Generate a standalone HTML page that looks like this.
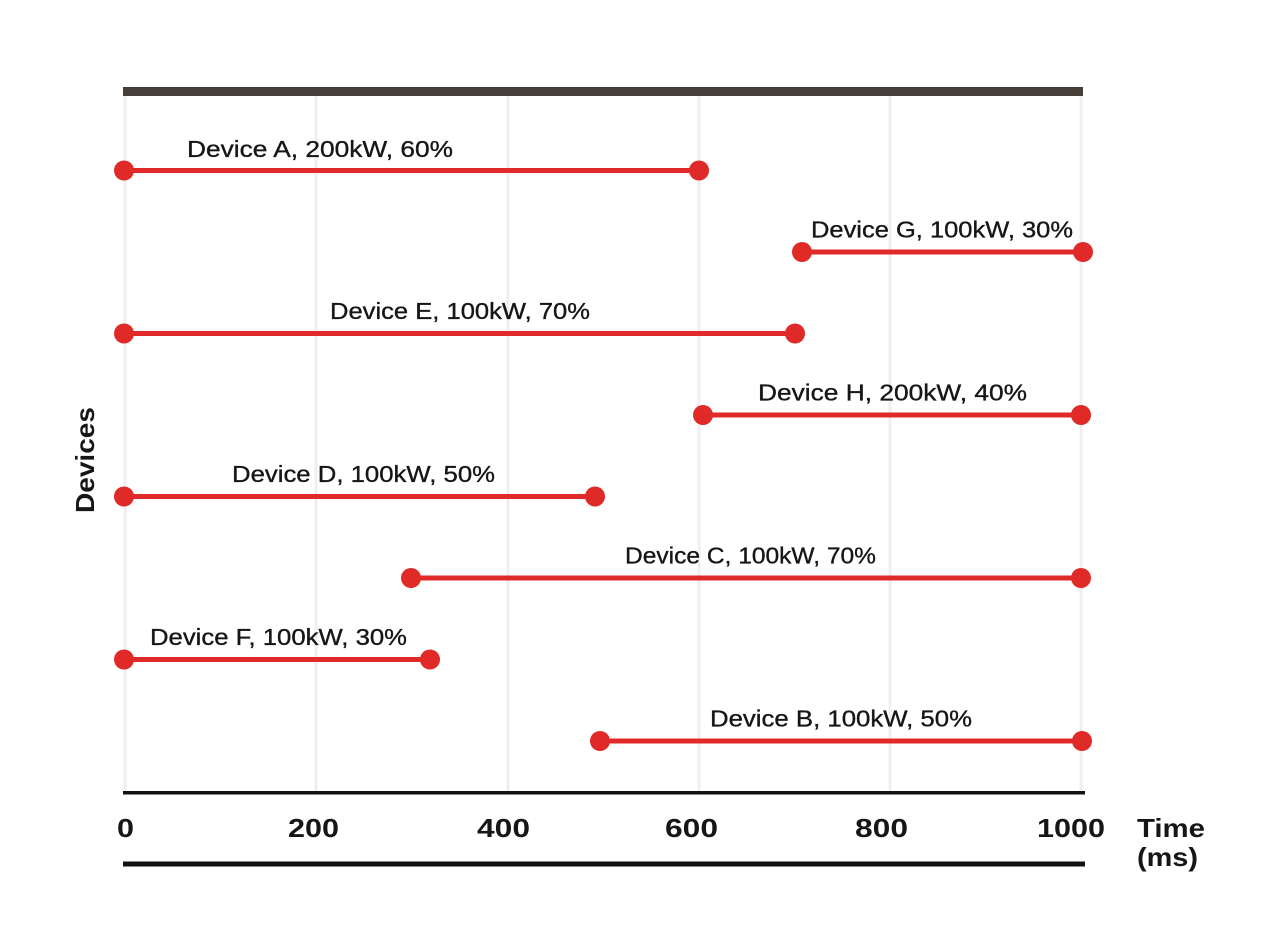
<!DOCTYPE html>
<html>
<head>
<meta charset="utf-8">
<style>
html,body{margin:0;padding:0;background:#fff;}
svg{display:block;}
text{font-family:"Liberation Sans","DejaVu Sans",sans-serif;fill:#161616;}
.lbl{font-size:23px;stroke:#161616;stroke-width:0.35px;}
.tick{font-size:26px;font-weight:bold;}
</style>
</head>
<body>
<svg width="1280" height="950" viewBox="0 0 1280 950" xmlns="http://www.w3.org/2000/svg">
<rect width="1280" height="950" fill="#fff"/>
<!-- gridlines -->
<g stroke="#f0eeee" stroke-width="3">
<line x1="125" y1="96" x2="125" y2="791"/>
<line x1="316" y1="96" x2="316" y2="791"/>
<line x1="508" y1="96" x2="508" y2="791"/>
<line x1="699" y1="96" x2="699" y2="791"/>
<line x1="890" y1="96" x2="890" y2="791"/>
<line x1="1081" y1="96" x2="1081" y2="791"/>
</g>
<!-- top bar -->
<rect x="123" y="87" width="960" height="9" fill="#463f39"/>
<!-- bottom axis lines -->
<rect x="123" y="791" width="962" height="3.5" fill="#111"/>
<rect x="123" y="861.5" width="962" height="5" fill="#111"/>

<!-- series -->
<g stroke="#e02a27" stroke-width="5">
<line x1="124" y1="170.5" x2="699" y2="170.5"/>
<line x1="802" y1="252" x2="1083" y2="252"/>
<line x1="124" y1="333.5" x2="795" y2="333.5"/>
<line x1="703" y1="415" x2="1081" y2="415"/>
<line x1="124" y1="496.5" x2="595" y2="496.5"/>
<line x1="411" y1="578" x2="1081" y2="578"/>
<line x1="124" y1="659.5" x2="430" y2="659.5"/>
<line x1="600" y1="741" x2="1082" y2="741"/>
</g>
<g fill="#e02a27">
<circle cx="124" cy="170.5" r="10"/><circle cx="699" cy="170.5" r="10"/>
<circle cx="802" cy="252" r="10"/><circle cx="1083" cy="252" r="10"/>
<circle cx="124" cy="333.5" r="10"/><circle cx="795" cy="333.5" r="10"/>
<circle cx="703" cy="415" r="10"/><circle cx="1081" cy="415" r="10"/>
<circle cx="124" cy="496.5" r="10"/><circle cx="595" cy="496.5" r="10"/>
<circle cx="411" cy="578" r="10"/><circle cx="1081" cy="578" r="10"/>
<circle cx="124" cy="659.5" r="10"/><circle cx="430" cy="659.5" r="10"/>
<circle cx="600" cy="741" r="10"/><circle cx="1082" cy="741" r="10"/>
</g>

<!-- labels -->
<text class="lbl" x="187" y="157" textLength="266" lengthAdjust="spacingAndGlyphs">Device A, 200kW, 60%</text>
<text class="lbl" x="811" y="237.5" textLength="262" lengthAdjust="spacingAndGlyphs">Device G, 100kW, 30%</text>
<text class="lbl" x="330" y="319" textLength="260" lengthAdjust="spacingAndGlyphs">Device E, 100kW, 70%</text>
<text class="lbl" x="758" y="400.5" textLength="269" lengthAdjust="spacingAndGlyphs">Device H, 200kW, 40%</text>
<text class="lbl" x="232" y="482" textLength="263" lengthAdjust="spacingAndGlyphs">Device D, 100kW, 50%</text>
<text class="lbl" x="625" y="563.5" textLength="251" lengthAdjust="spacingAndGlyphs">Device C, 100kW, 70%</text>
<text class="lbl" x="150" y="645" textLength="257" lengthAdjust="spacingAndGlyphs">Device F, 100kW, 30%</text>
<text class="lbl" x="710" y="726.5" textLength="262" lengthAdjust="spacingAndGlyphs">Device B, 100kW, 50%</text>

<!-- tick labels -->
<text class="tick" x="117" y="837" textLength="17" lengthAdjust="spacingAndGlyphs">0</text>
<text class="tick" x="288" y="837" textLength="51" lengthAdjust="spacingAndGlyphs">200</text>
<text class="tick" x="477" y="837" textLength="53" lengthAdjust="spacingAndGlyphs">400</text>
<text class="tick" x="665" y="837" textLength="53" lengthAdjust="spacingAndGlyphs">600</text>
<text class="tick" x="855" y="837" textLength="53" lengthAdjust="spacingAndGlyphs">800</text>
<text class="tick" x="1037" y="837" textLength="68" lengthAdjust="spacingAndGlyphs">1000</text>
<text class="tick" x="1137" y="837" textLength="68" lengthAdjust="spacingAndGlyphs">Time</text>
<text class="tick" x="1137" y="866" textLength="61" lengthAdjust="spacingAndGlyphs">(ms)</text>

<!-- y axis title -->
<text class="tick" transform="translate(94,513) rotate(-90)" x="0" y="0" textLength="106" lengthAdjust="spacingAndGlyphs">Devices</text>
</svg>
</body>
</html>
